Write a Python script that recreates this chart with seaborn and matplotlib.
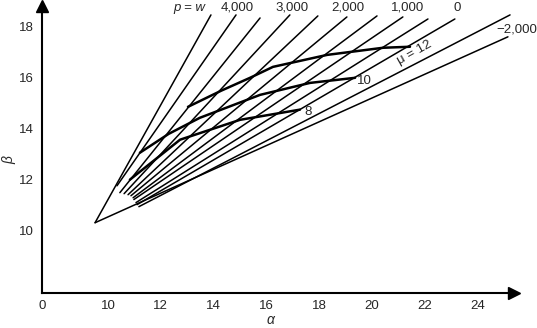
import numpy as np
import pandas as pd
import seaborn as sns
import matplotlib
matplotlib.use("Agg")
from matplotlib import pyplot as plt

# lines of constant p: start and end points (alpha, beta)
line_p = ["w", "4000", "3500", "3000", "2500", "2000", "1500", "1000", "500", "0", "-1000", "-2000"]
start_alpha = [9.51, 10.34, 10.45, 10.61, 10.76, 10.87, 10.95, 10.98, 11.06, 11.10, 11.17, 9.51]
start_beta = [10.31, 11.76, 11.49, 11.45, 11.41, 11.37, 11.29, 11.22, 11.10, 11.02, 10.94, 10.31]
end_alpha = [13.90, 14.85, 15.76, 16.89, 17.95, 19.05, 20.19, 21.17, 22.12, 23.14, 25.23, 25.15]
end_beta = [18.47, 18.47, 18.35, 18.47, 18.43, 18.39, 18.43, 18.39, 18.31, 18.31, 18.47, 17.61]

# curves of constant mu
mu12_alpha = [13.03, 14.3, 15.38, 16.25, 18.3, 20.42, 21.44]
mu12_beta = [14.86, 15.5, 16.0, 16.43, 16.9, 17.18, 17.22]
mu10_alpha = [11.21, 12.3, 13.48, 15.76, 17.65, 19.36]
mu10_beta = [13.06, 13.8, 14.43, 15.33, 15.8, 16.0]
mu8_alpha = [10.83, 12.73, 15.0, 17.27]
mu8_beta = [12.0, 13.57, 14.35, 14.75]

top_labels = ["4,000", "3,000", "2,000", "1,000", "0"]
top_label_alpha = [14.89, 16.97, 19.09, 21.36, 23.22]

x_major = [10, 12, 14, 16, 18, 20, 22, 24]
y_major = [10, 12, 14, 16, 18]

rows = []
for i, p in enumerate(line_p):
    rows.append([p, start_alpha[i], start_beta[i]])
    rows.append([p, end_alpha[i], end_beta[i]])
df_lines = pd.DataFrame(rows, columns=["p", "alpha", "beta"])

rows = []
for name, xs, ys in [("12", mu12_alpha, mu12_beta), ("10", mu10_alpha, mu10_beta), ("8", mu8_alpha, mu8_beta)]:
    for k in range(len(xs)):
        rows.append([name, k, xs[k], ys[k]])
df_mu = pd.DataFrame(rows, columns=["mu", "k", "alpha", "beta"])

sns.set_style("white")
plt.rcParams["font.family"] = ["Liberation Sans", "DejaVu Sans"]

fig = plt.figure(figsize=(5.37, 3.28), dpi=100)
ax = fig.add_axes([42 / 537, 35 / 328, (514 - 42) / 537, (293 - 6) / 328])

sns.lineplot(df_lines, x="alpha", y="beta", units="p", estimator=None, sort=False,
             color="black", lw=1.1, ax=ax)
sns.lineplot(df_mu, x="alpha", y="beta", units="mu", estimator=None, sort=False,
             color="black", lw=1.8, ax=ax)

ax.set_xlim(7.5, 25.38)
ax.set_ylim(7.55, 18.82)
ax.set_xticks([7.5] + x_major)
ax.set_xticklabels(["0"] + [str(v) for v in x_major])
ax.set_xticks([9, 11, 13, 15, 17, 19, 21, 23, 25], minor=True)
ax.set_yticks(y_major)
ax.set_yticklabels([str(v) for v in y_major])
ax.set_yticks([9, 11, 13, 15, 17], minor=True)
ax.tick_params(axis="both", which="both", direction="in", width=1.3, labelsize=9.5, color="black")
ax.tick_params(axis="x", which="major", length=6, pad=5)
ax.tick_params(axis="x", which="minor", length=3)
ax.tick_params(axis="y", which="major", length=8, pad=6)
ax.tick_params(axis="y", which="minor", length=4)

for s in ["top", "right"]:
    ax.spines[s].set_visible(False)
for s in ["left", "bottom"]:
    ax.spines[s].set_linewidth(1.5)
    ax.spines[s].set_color("black")
ax.plot(1, 0, ">", color="black", ms=8, transform=ax.transAxes, clip_on=False)
ax.plot(0, 1, "^", color="black", ms=8, transform=ax.transAxes, clip_on=False)

ax.set_xlabel("")
ax.set_ylabel("")
fig.text(270 / 537, 1 - 320 / 328, "\u03b1", fontsize=10, style="italic", ha="center", va="center")
fig.text(9 / 537, 1 - 160 / 328, "\u03b2", fontsize=10, style="italic", ha="center", va="center",
         rotation=90)

ax.text(13.67, 18.75, "p = w", fontsize=9.5, style="italic", ha="right", va="center")
for lab, a in zip(top_labels, top_label_alpha):
    ax.text(a, 18.75, lab, fontsize=9.5, ha="center", va="center")
ax.text(25.49, 17.88, "\u22122,000", fontsize=9.5, ha="center", va="center")
ax.text(21.6, 17.0, "\u03bc = 12", fontsize=9.5, ha="center", va="center", rotation=29)
ax.text(19.73, 15.88, "10", fontsize=9.5, ha="center", va="center")
ax.text(17.58, 14.67, "8", fontsize=9.5, ha="center", va="center")

fig.savefig("out.png", dpi=100)
